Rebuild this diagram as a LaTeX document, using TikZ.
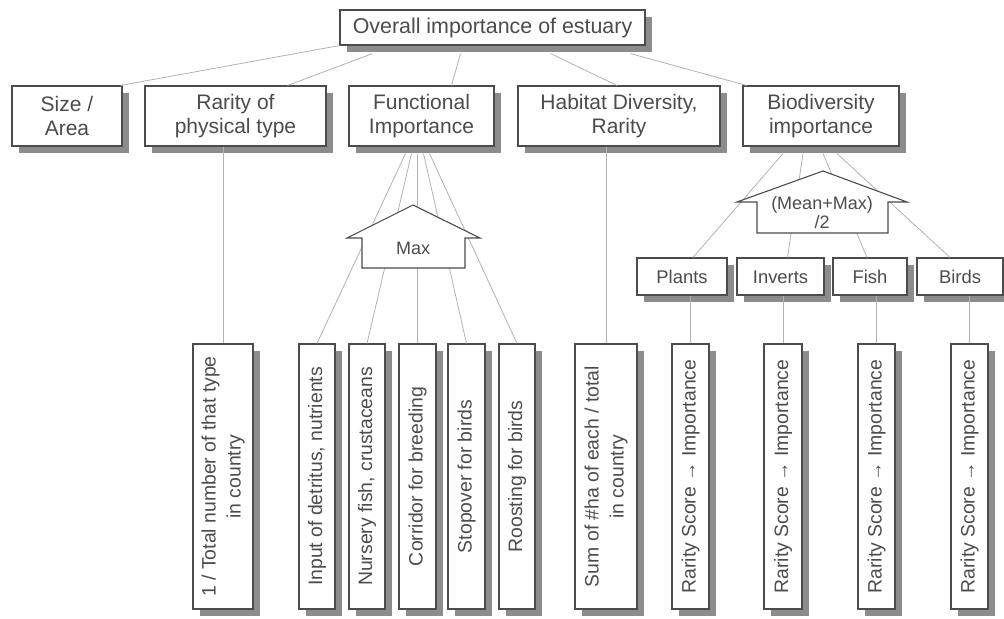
\documentclass[tikz,border=0pt]{standalone}
\usepackage{fontspec}
\setmainfont{Liberation Sans}
\usepackage{graphicx}
\usetikzlibrary{shadows}
\usetikzlibrary{math}

\newcommand{\vtext}[1]{\rotatebox{90}{\begin{tabular}{@{}c@{}}#1\end{tabular}}}

\begin{document}
\begin{tikzpicture}[x=0.5pt,y=-0.5pt,line width=0.55pt,
  box/.style={draw=black!70,fill=white,text=black!70,align=center,inner sep=1pt,
    drop shadow={shadow xshift=3.5pt,shadow yshift=-3.5pt,fill=black!45,opacity=1}},
  headbox/.style={box,minimum height=17.5pt,font=\fontsize{10.7}{12}\selectfont},
  critbox/.style={box,minimum height=30pt,font=\fontsize{10.5}{12}\selectfont},
  taxbox/.style={box,minimum height=18.5pt,text height=1.6ex,text depth=0.3ex,font=\fontsize{9.2}{11}\selectfont},
  leafbox/.style={box,minimum height=132.5pt,font=\fontsize{9.7}{12.5}\selectfont},
  rulebox/.style={draw=black!70,fill=white},
  ruletext/.style={text=black!70,align=center,font=\fontsize{9}{9.5}\selectfont},
  link/.style={draw=black!30,line width=0.4pt}]

  \tikzmath{
    \rowA = 27.5;  % overall box
    \rowB = 116;   % criteria
    \rowC = 276.5; % taxa
    \rowD = 476.5; % vertical boxes
  }

  \useasboundingbox (0,0) rectangle (1004,619);

  % top
  \node[headbox,minimum width=152.5pt] (top) at (492.5,\rowA) {Overall importance of estuary};

  % criteria
  \node[critbox,minimum width=55pt]   (size)    at (67,\rowB)    {Size /\\Area};
  \node[critbox,minimum width=90.5pt] (rarity)  at (235.5,\rowB) {Rarity of\\physical type};
  \node[critbox,minimum width=72.5pt] (func)    at (421.5,\rowB) {Functional\\Importance};
  \node[critbox,minimum width=101pt]  (habitat) at (619,\rowB)   {Habitat Diversity,\\Rarity};
  \node[critbox,minimum width=78pt]   (biodiv)  at (821,\rowB)   {Biodiversity\\importance};

  % taxa
  \node[taxbox,minimum width=45pt]   (plants)  at (682,\rowC)   {Plants};
  \node[taxbox,minimum width=43.5pt] (inverts) at (780.5,\rowC) {Inverts};
  \node[taxbox,minimum width=37pt]   (fish)    at (870,\rowC)   {Fish};
  \node[taxbox,minimum width=43pt]   (birds)   at (960,\rowC)   {Birds};

  % vertical boxes
  \node[leafbox,minimum width=30pt]   (total)    at (223,\rowD)   {\vtext{1 / Total number of that type\\in country}};
  \node[leafbox,minimum width=18pt]   (input)    at (317,\rowD)   {\vtext{Input of detritus, nutrients}};
  \node[leafbox,minimum width=18pt]   (nursery)  at (367,\rowD)   {\vtext{Nursery fish, crustaceans}};
  \node[leafbox,minimum width=18.5pt] (corridor) at (417.5,\rowD) {\vtext{Corridor for breeding}};
  \node[leafbox,minimum width=18.5pt] (stopover) at (466.5,\rowD) {\vtext{Stopover for birds}};
  \node[leafbox,minimum width=18pt]   (roosting) at (517,\rowD)   {\vtext{Roosting for birds}};
  \node[leafbox,minimum width=31pt]   (sum)      at (606,\rowD)   {\vtext{Sum of \#ha of each / total\\in country}};
  \node[leafbox,minimum width=18.5pt] (score1)   at (690.5,\rowD) {\vtext{Rarity Score → Importance}};
  \node[leafbox,minimum width=19pt]   (score2)   at (783,\rowD)   {\vtext{Rarity Score → Importance}};
  \node[leafbox,minimum width=18.5pt] (score3)   at (876.5,\rowD) {\vtext{Rarity Score → Importance}};
  \node[leafbox,minimum width=18.5pt] (score4)   at (969.5,\rowD) {\vtext{Rarity Score → Importance}};

  % overall -> criteria
  \draw[link] (top.south west) -- ([shift={(-2,0)}]size.north east);
  \draw[link] ([shift={(-120,8)}]top.south) -- ([shift={(52,0)}]rarity.north);
  \draw[link] ([shift={(-32,8)}]top.south) -- ([shift={(30,0)}]func.north);
  \draw[link] ([shift={(58,8)}]top.south) -- ([shift={(-2,0)}]habitat.north);
  \draw[link] ([shift={(138,8)}]top.south) -- ([shift={(4,0)}]biodiv.north west);

  % functional importance fan
  \foreach \leaf/\dx in {input/-16,nursery/-10,corridor/-4,stopover/2,roosting/8}
    \draw[link] ([shift={(\dx,7)}]func.south) -- (\leaf.north);

  % biodiversity fan
  \foreach \tax/\dx/\ex in {plants/-38/11,inverts/-18/7,fish/2/-3,birds/16/-10}
    \draw[link] ([shift={(\dx,7)}]biodiv.south) -- ([shift={(\ex,0)}]\tax.north);

  % straight drops
  \foreach \leaf/\up in {total/rarity,sum/habitat,score1/plants,score2/inverts,score3/fish,score4/birds}
    \draw[link] (\leaf.north) -- (\leaf.north |- \up.south);

  % Max rule
  \draw[rulebox] (362,268) -- (362,238) -- (347,238) -- (413,205) -- (480,238) -- (465,238) -- (465,268) -- cycle;
  \node[ruletext] (max) at (413,248) {Max};

  % (Mean+Max)/2 rule
  \draw[rulebox] (757,233) -- (757,202) -- (737,202) -- (823,171) -- (907,202) -- (888,202) -- (888,233) -- cycle;
  \node[ruletext] (meanmax) at (822,213) {(Mean+Max)\\/2};

\end{tikzpicture}
\end{document}
